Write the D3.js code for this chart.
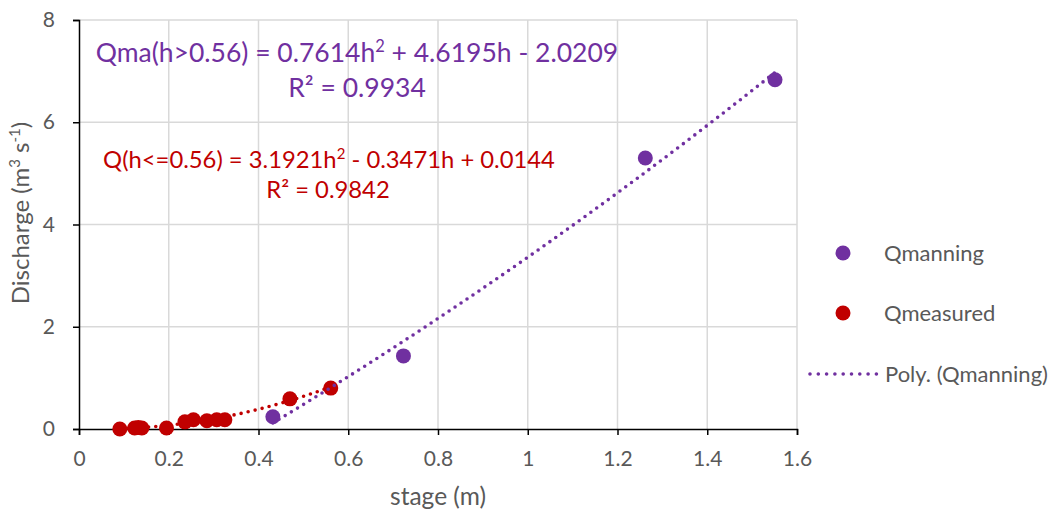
<!DOCTYPE html>
<html>
<head>
<meta charset="utf-8">
<script src="https://cdn.jsdelivr.net/npm/d3@7"></script>
<style>
  html, body { margin: 0; padding: 0; background: #fff; }
  svg { display: block; font-family: Lato, "Open Sans", sans-serif; }
</style>
</head>
<body>
<svg id="chart" width="1054" height="514"></svg>
<script>
// Measured discharge (red) and Manning-computed discharge (purple) against stage
const measuredStage = [0.091, 0.124, 0.132, 0.140, 0.195, 0.236, 0.255, 0.285, 0.307, 0.325, 0.470, 0.561];
const measuredQ     = [0.00,  0.02,  0.03,  0.02,  0.02,  0.14,  0.18,  0.16,  0.18,  0.18,  0.59,  0.80];
const manningStage  = [0.432, 0.723, 1.262, 1.551];
const manningQ      = [0.24,  1.43,  5.30,  6.83];

// Polynomial trendline coefficients [a, b, c] for a*h^2 + b*h + c
const manningFit  = [0.7614, 4.6195, -2.0209];
const measuredFit = [3.1921, -0.3471, 0.0144];

const xTicks = [0, 0.2, 0.4, 0.6, 0.8, 1, 1.2, 1.4, 1.6];
const yTicks = [0, 2, 4, 6, 8];

const purple = "#7030A0", red = "#C00000", grey = "#595959";

const svg = d3.select("#chart");
const plotLeft = 79, plotRight = 797, plotTop = 20, plotBottom = 429;

const x = d3.scaleLinear().domain([0, 1.6]).range([plotLeft, plotRight]);
const y = d3.scaleLinear().domain([0, 8]).range([plotBottom, plotTop]);

// gridlines
const grid = svg.append("g");
grid.selectAll("line.vx").data(xTicks.slice(1)).join("line")
  .attr("x1", d => x(d)).attr("x2", d => x(d))
  .attr("y1", plotTop).attr("y2", plotBottom)
  .attr("stroke", "#d9d9d9").attr("stroke-width", 1.5);
grid.selectAll("line.hy").data(yTicks.slice(1)).join("line")
  .attr("x1", plotLeft).attr("x2", plotRight)
  .attr("y1", d => y(d)).attr("y2", d => y(d))
  .attr("stroke", "#d9d9d9").attr("stroke-width", 1.5);

// axes
const xAxis = svg.append("g").attr("transform", `translate(0,${plotBottom})`)
  .call(d3.axisBottom(x).tickValues(xTicks).tickFormat(d3.format("")).tickSize(6).tickPadding(16));
const yAxis = svg.append("g").attr("transform", `translate(${plotLeft},0)`)
  .call(d3.axisLeft(y).tickValues(yTicks).tickSize(6).tickPadding(18));
[xAxis, yAxis].forEach(a => {
  a.select(".domain").attr("stroke", "#000").attr("stroke-width", 1.5);
  a.selectAll(".tick line").attr("stroke", "#000").attr("stroke-width", 1.5);
  a.selectAll(".tick text").attr("fill", grey).attr("font-size", 21)
    .attr("font-family", "Lato, 'Open Sans', sans-serif");
});

// axis titles
svg.append("text").attr("x", x(0.8)).attr("y", 505).attr("text-anchor", "middle")
  .attr("fill", grey).attr("font-size", 24.5).text("stage (m)");
const yTitle = svg.append("text").attr("transform", `translate(29,213) rotate(-90)`)
  .attr("text-anchor", "middle").attr("fill", grey).attr("font-size", 24);
yTitle.append("tspan").text("Discharge (m");
yTitle.append("tspan").attr("dy", -9).attr("font-size", 15).text("3");
yTitle.append("tspan").attr("dy", 9).text(" s");
yTitle.append("tspan").attr("dy", -9).attr("font-size", 15).text("-1");
yTitle.append("tspan").attr("dy", 9).text(")");

// points
const pts = svg.append("g");
pts.selectAll("circle.man").data(d3.zip(manningStage, manningQ)).join("circle")
  .attr("cx", d => x(d[0])).attr("cy", d => y(d[1])).attr("r", 7.5).attr("fill", purple);
pts.selectAll("circle.mea").data(d3.zip(measuredStage, measuredQ)).join("circle")
  .attr("cx", d => x(d[0])).attr("cy", d => y(d[1])).attr("r", 7.5).attr("fill", red);

// trendlines
const poly = (c, h) => c[0] * h * h + c[1] * h + c[2];
const line = d3.line().x(d => x(d[0])).y(d => y(d[1])).curve(d3.curveLinear);
function trend(stage, coef, color) {
  const [h0, h1] = d3.extent(stage);
  const hs = d3.range(0, 101).map(i => h0 + (h1 - h0) * i / 100);
  svg.append("path").datum(hs.map(h => [h, poly(coef, h)]))
    .attr("d", line).attr("fill", "none").attr("stroke", color)
    .attr("stroke-width", 3.6).attr("stroke-linecap", "round")
    .attr("stroke-dasharray", "0 7.2");
}
trend(measuredStage, measuredFit, red);
trend(manningStage, manningFit, purple);

// equation labels
const eq1 = svg.append("text").attr("x", 357).attr("y", 62).attr("text-anchor", "middle")
  .attr("fill", purple).attr("font-size", 26.5);
eq1.append("tspan").text("Qma(h>0.56) = 0.7614h");
eq1.append("tspan").attr("dy", -10).attr("font-size", 16.5).text("2");
eq1.append("tspan").attr("dy", 10).text(" + 4.6195h - 2.0209");
svg.append("text").attr("x", 357).attr("y", 97).attr("text-anchor", "middle")
  .attr("fill", purple).attr("font-size", 26.5).text("R² = 0.9934");

const eq2 = svg.append("text").attr("x", 329).attr("y", 168).attr("text-anchor", "middle")
  .attr("fill", red).attr("font-size", 23.8);
eq2.append("tspan").text("Q(h<=0.56) = 3.1921h");
eq2.append("tspan").attr("dy", -9).attr("font-size", 15).text("2");
eq2.append("tspan").attr("dy", 9).text(" - 0.3471h + 0.0144");
svg.append("text").attr("x", 328).attr("y", 198).attr("text-anchor", "middle")
  .attr("fill", red).attr("font-size", 23.8).text("R² = 0.9842");

// legend
const legend = svg.append("g");
const items = [
  { label: "Qmanning", color: purple, type: "dot", y: 253 },
  { label: "Qmeasured", color: red, type: "dot", y: 313 },
  { label: "Poly. (Qmanning)", color: purple, type: "line", y: 374 }
];
items.forEach(it => {
  if (it.type === "dot") {
    legend.append("circle").attr("cx", 843).attr("cy", it.y).attr("r", 7.5).attr("fill", it.color);
    legend.append("text").attr("x", 884).attr("y", it.y + 8).attr("fill", grey)
      .attr("font-size", 22).text(it.label);
  } else {
    legend.append("line").attr("x1", 810).attr("x2", 877).attr("y1", it.y).attr("y2", it.y)
      .attr("stroke", it.color).attr("stroke-width", 3.6).attr("stroke-linecap", "round")
      .attr("stroke-dasharray", "0 8.3");
    legend.append("text").attr("x", 885).attr("y", it.y + 8).attr("fill", grey)
      .attr("font-size", 22).text(it.label);
  }
});
</script>
</body>
</html>
